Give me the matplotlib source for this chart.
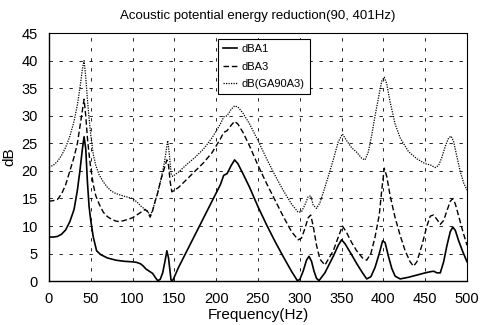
import matplotlib.pyplot as plt

plt.rcParams['font.family'] = ['Liberation Sans', 'DejaVu Sans']

# dBA1 (solid)
f1 = [0, 5, 10, 15, 20, 25, 30, 34, 37, 40, 42, 44, 46, 48, 50, 53, 57, 62, 70, 80,
      90, 100, 105, 110, 113, 116, 120, 124, 127, 130, 133, 136, 139, 141, 143, 145, 146, 148,
      155, 165, 175, 185, 195, 205, 209, 213, 218, 222, 226, 232, 240, 250, 260, 270, 280, 290,
      297, 300, 304, 308, 311, 314, 317, 320, 323, 330, 340, 346, 350, 354, 360, 368, 375, 380,
      385, 390, 395, 399, 402, 406, 410, 414, 420, 430, 440, 450, 456, 460, 464, 468, 472, 476,
      480, 483, 486, 490, 495, 500]
v1 = [8, 8, 8.1, 8.5, 9.3, 10.8, 13, 16.5, 20, 24, 26.2, 24, 18, 13.5, 11, 8, 5.5, 4.8, 4.2, 3.8,
      3.6, 3.5, 3.4, 3.1, 2.7, 2.2, 1.8, 1.4, 0.7, 0.1, 0.3, 1.5, 3.8, 5.5, 4.2, 1.5, 0.2, 0.1,
      2.5, 5.5, 8.5, 11.5, 14.5, 17.5, 19.2, 19.5, 21, 22, 21.3, 19.5, 17, 13.5, 10.3, 7.3, 4.5, 1.8,
      0.1, 0.3, 1.8, 3.8, 4.5, 3.6, 1.8, 0.5, 0.1, 1.5, 4.5, 6.5, 7.5, 6.8, 5.3, 3.2, 1.5, 0.4,
      0.8, 2.5, 5, 7.3, 7, 4.5, 2.3, 0.9, 0.4, 0.7, 1.1, 1.5, 1.7, 1.8, 1.5, 1.5, 3.5, 6.5,
      9, 9.8, 9.2, 7.3, 5.3, 3.5]

# dBA3 (dashed)
f3 = [0, 5, 10, 15, 20, 25, 30, 34, 37, 40, 42, 44, 46, 48, 50, 53, 56, 60, 65, 70, 75, 80, 84,
      90, 100, 105, 110, 115, 118, 121, 124, 127, 130, 134, 138, 141, 143, 145, 147,
      155, 165, 175, 185, 195, 205, 209, 213, 218, 222, 226, 232, 240, 250, 260, 270, 280, 290,
      298, 302, 306, 310, 313, 316, 320, 324, 330, 340, 346, 351, 356, 362, 368, 375, 380, 385,
      390, 395, 398, 401, 404, 408, 414, 420, 426, 432, 436, 440, 446, 452, 456, 460, 464, 468,
      472, 476, 480, 483, 486, 490, 495, 500]
v3 = [14.5, 14.6, 14.8, 15.8, 17.5, 20, 22.5, 25, 28, 31, 33, 30, 26, 23, 20.5, 17.5, 15.5, 14, 12.5, 11.7,
      11.2, 10.9, 10.8, 11, 11.5, 12, 12.5, 13, 12.6, 11.6, 12.8, 14.5, 16, 18.5, 20.5, 22, 21, 18, 16.2,
      17, 18.5, 20, 21.5, 23.3, 25.8, 27, 27.3, 28.3, 29, 28.5, 27, 24.5, 21, 17.8, 14.8, 11.8, 9,
      7.5, 7.8, 9.5, 11.5, 12, 10, 6.5, 4, 2.9, 5.5, 8, 10, 8.8, 7, 5.5, 4.2, 3.8, 5,
      8, 12, 16.5, 20.5, 19, 15.5, 11.5, 8.3, 5.5, 3.5, 2.7, 3.5, 6.5, 10, 11.8, 12, 11.2, 10.3,
      11, 12.8, 14.5, 15, 14, 11.8, 9, 6.5]

# dB(GA90A3) (dotted)
fg = [0, 5, 10, 15, 20, 25, 30, 34, 37, 40, 42, 44, 46, 48, 50, 53, 56, 60, 65, 70, 75, 80,
      90, 100, 105, 110, 115, 118, 121, 124, 127, 130, 134, 138, 140, 142, 144, 146, 148,
      155, 165, 175, 185, 195, 205, 209, 213, 218, 222, 226, 232, 240, 250, 260, 270, 280, 290,
      298, 302, 306, 310, 313, 316, 320, 324, 330, 340, 346, 351, 356, 362, 368, 374, 378, 382,
      386, 390, 395, 398, 401, 404, 408, 414, 420, 430, 440, 450, 456, 462, 466, 470, 474, 478,
      481, 484, 488, 492, 496, 500]
vg = [20.7, 21, 21.7, 22.8, 24.3, 26.3, 29, 32, 35, 38.5, 40, 37, 33, 29.5, 26.5, 23, 21, 19.3, 18, 17,
      16.3, 15.9, 15.4, 15, 14.4, 13.6, 13, 12.7, 11.8, 12.9, 14.5, 16, 18.5, 21.5, 23.5, 25.5, 23, 19.5, 19,
      19.8, 21.2, 22.5, 24, 26, 28.5, 29.8, 30, 31.2, 31.8, 31.6, 30.5, 28.5, 25.5, 22.3, 19.3, 16.5, 14,
      12.5, 12.6, 13.8, 15.3, 15.5, 13.8, 13.2, 14.2, 17, 22, 25.3, 26.7, 25.5, 24.2, 23.4, 22.3, 22, 23.5,
      26.5, 30, 34, 36.3, 37, 35.8, 32.5, 28.5, 26, 23.5, 22.2, 21.3, 21.1, 20.6, 21, 22.5, 24.5, 26,
      26.3, 25.3, 22.5, 19.8, 17.8, 16.5]

fig = plt.figure(figsize=(4.8, 3.25), dpi=100)
ax = fig.add_axes([0.102, 0.135, 0.871, 0.763])

ax.plot(f1, v1, color='black', linestyle='-', linewidth=1.2, label='dBA1')
ax.plot(f3, v3, color='black', linestyle=(0, (4, 2)), linewidth=1.0, label='dBA3')
ax.plot(fg, vg, color='black', linestyle=(0, (1, 1)), linewidth=0.9, label='dB(GA90A3)')

ax.set_xlim(0, 500)
ax.set_ylim(0, 45)
ax.set_xticks(range(0, 501, 50))
ax.set_yticks(range(0, 46, 5))
ax.tick_params(length=0, labelsize=10.5, pad=8)
ax.grid(True, color='black', linestyle=(0, (4, 8)), linewidth=0.6)

ax.spines['left'].set_linewidth(1.0)
ax.spines['bottom'].set_linewidth(1.0)
for s in ('top', 'right'):
    ax.spines[s].set_linestyle((0, (1, 1)))
    ax.spines[s].set_linewidth(0.8)

ax.set_title('Acoustic potential energy reduction(90, 401Hz)', fontsize=9.5, pad=10)
ax.set_xlabel('Frequency(Hz)', fontsize=11, labelpad=1)
ax.set_ylabel('dB', fontsize=11, labelpad=4)

leg = ax.legend(loc='upper left', bbox_to_anchor=(0.404, 0.975), fontsize=8,
                fancybox=False, framealpha=1, edgecolor='black', handlelength=1.3,
                handletextpad=0.4, borderpad=0.45, labelspacing=0.65, borderaxespad=0)
leg.get_frame().set_linewidth(0.8)

fig.savefig('out.png', dpi=100)
